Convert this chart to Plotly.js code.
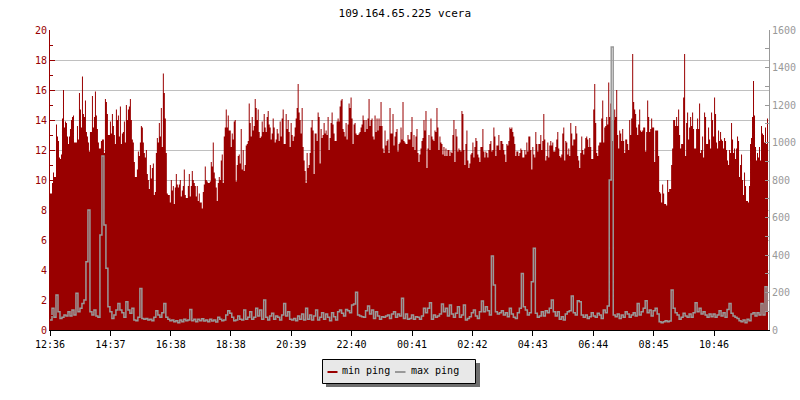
<!DOCTYPE html>
<html>
<head>
<meta charset="utf-8">
<script src="https://cdn.plot.ly/plotly-3.0.1.min.js"></script>
<style>
  html, body { margin: 0; padding: 0; background: #ffffff; }
  #chart { width: 800px; height: 400px; }
</style>
</head>
<body>
<div id="chart"></div>
<script>
// ---- data ----
const chartTitle = '109.164.65.225 vcera';
const startTime = '12:36';          // first sample
const minStepMinutes = 2;           // sampling of min ping
const maxStepMinutes = 4;           // sampling of max ping (as read)
const tickLabels = ['12:36','14:37','16:38','18:38','20:39','22:40','00:41','02:42','04:43','06:44','08:45','10:46'];
const seriesNames = ['min ping', 'max ping'];

// min ping (left axis, ms)
const minPing = [
9.1,9.1,9.8,10.5,10.2,10.2,13.7,12.9,12.6,11.5,
11.4,11.7,14.1,16.0,13.5,13.9,13.8,12.9,12.4,12.9,
13.4,14.0,14.2,14.3,12.5,12.5,12.5,13.6,12.7,15.8,
14.7,13.5,16.9,14.4,14.2,15.3,13.2,12.9,12.5,11.9,
13.2,13.2,15.6,13.5,14.2,15.9,14.3,13.4,12.5,12.1,
12.1,12.6,12.7,12.7,11.8,15.4,15.2,14.4,13.0,13.0,
13.9,13.1,14.4,13.6,13.0,12.4,14.7,14.0,14.3,12.9,
14.9,12.4,13.1,13.2,13.9,12.5,15.0,14.0,14.7,14.9,
15.4,14.0,12.7,12.5,11.2,10.2,10.2,10.7,11.9,11.6,
12.5,13.6,13.5,12.5,11.8,11.5,12.0,10.4,10.0,9.4,
11.0,10.1,10.8,11.1,9.0,9.2,11.8,12.8,12.5,13.8,
12.9,14.8,12.2,17.1,15.8,14.1,11.8,9.1,9.0,9.0,
8.5,10.0,9.3,9.6,8.4,9.5,10.4,9.7,9.5,9.7,
10.0,8.9,9.3,9.6,10.7,9.0,8.8,8.8,9.6,10.4,
8.9,9.6,10.6,10.0,9.8,9.6,8.9,9.6,8.6,9.1,
8.5,8.5,8.1,9.2,9.7,10.9,10.0,9.9,9.8,9.8,
9.9,11.2,10.9,12.5,10.5,10.1,9.5,8.6,9.8,10.2,
10.0,11.3,11.7,9.8,12.9,13.5,14.7,13.5,14.3,13.3,
13.3,12.2,13.1,12.7,13.9,14.0,9.9,11.0,11.6,11.7,
11.1,13.4,10.7,12.0,10.6,11.0,12.3,12.4,12.6,15.1,
13.8,12.9,14.2,13.3,13.6,15.4,14.8,14.0,14.7,13.2,
12.8,12.9,13.9,13.2,14.4,13.5,13.2,14.2,14.6,13.7,
13.5,12.7,13.1,14.1,13.5,12.5,12.7,13.4,13.1,12.6,
13.9,12.9,14.1,14.7,12.4,12.4,14.4,13.4,14.0,13.2,
12.2,13.8,13.0,12.6,12.9,13.5,14.1,14.8,16.4,14.5,
14.0,13.1,14.8,12.2,11.3,10.6,9.8,11.8,10.8,11.0,
11.8,13.5,14.0,13.3,10.4,13.1,13.1,12.6,14.5,14.2,
11.1,13.4,12.8,13.0,13.8,13.1,13.3,13.0,14.2,12.0,
12.8,13.8,14.5,13.7,13.1,12.6,12.6,13.9,14.1,13.9,
14.9,15.3,15.4,13.4,13.2,12.9,13.8,12.7,13.7,15.1,
14.8,15.5,14.1,12.4,13.7,13.8,13.1,13.0,13.0,13.1,
13.2,13.5,13.7,14.3,14.0,13.2,14.0,13.4,14.1,15.4,
13.6,14.0,14.1,12.9,12.7,14.3,13.2,14.1,13.3,14.1,
13.6,15.2,13.6,12.1,11.8,13.3,12.3,12.6,12.7,11.8,
14.8,13.1,13.1,14.4,12.3,12.9,13.2,13.4,11.9,12.4,
12.5,13.5,12.7,15.2,12.6,12.5,12.4,12.4,13.0,12.7,
12.7,13.2,14.2,12.2,13.0,12.0,12.9,13.4,11.8,11.2,
11.7,12.1,12.6,12.8,14.0,13.3,14.6,10.8,12.1,13.0,
12.0,14.1,12.9,12.7,12.6,13.3,13.2,14.8,13.5,12.0,
12.9,12.5,12.4,11.7,12.2,11.6,12.1,11.6,12.0,12.0,
11.6,11.9,11.8,13.0,14.0,11.2,13.4,12.9,11.9,12.1,
12.0,11.9,14.6,14.4,12.0,11.0,12.4,13.3,11.3,10.8,
11.1,11.7,11.8,12.5,11.5,12.2,12.8,12.6,11.7,11.5,
11.2,12.2,12.2,13.4,11.9,11.5,11.9,11.8,11.5,12.0,
12.4,12.6,11.9,12.0,13.5,12.9,11.6,12.3,12.3,13.0,
12.0,12.6,12.6,12.4,12.0,11.7,11.2,12.4,12.3,12.6,
13.5,13.4,13.5,13.2,12.9,12.4,11.6,11.9,11.9,11.6,
11.8,12.1,12.0,11.5,11.5,12.0,11.7,12.5,11.9,12.9,
12.9,12.0,10.7,12.2,11.7,11.5,13.2,12.4,11.9,12.4,
12.4,13.0,12.0,12.6,14.4,12.7,11.3,11.6,12.5,11.5,
12.3,12.6,12.3,12.5,11.9,11.9,12.2,12.7,13.2,12.1,
11.6,11.5,11.7,13.1,13.5,11.3,12.6,12.5,11.7,12.1,
11.6,13.8,13.1,12.3,12.7,12.7,13.6,13.1,11.6,11.3,
10.8,11.8,12.9,12.0,11.7,12.1,12.8,12.9,12.7,12.2,
12.8,12.2,11.4,11.4,14.7,16.4,13.8,11.8,11.6,12.3,
12.5,12.5,14.1,15.3,12.5,13.5,13.6,14.2,13.7,16.5,
14.2,15.1,14.0,12.6,14.0,14.7,14.2,16.0,13.0,12.1,
13.3,13.1,12.6,13.4,12.6,11.8,12.7,12.7,12.4,12.0,
14.0,13.0,14.1,18.4,15.2,14.7,14.4,13.5,13.0,13.7,
14.7,13.3,13.2,13.3,13.5,13.5,11.9,13.2,15.3,14.2,
13.2,13.4,14.1,13.5,13.5,11.2,13.3,13.3,13.3,11.6,
9.2,9.1,8.5,9.7,9.1,8.4,8.4,8.3,10.0,9.2,
9.4,9.4,11.0,12.1,14.0,14.0,13.6,14.2,13.6,14.7,
13.0,12.1,12.4,12.4,15.5,18.4,11.6,13.8,14.5,12.7,
13.5,14.2,13.6,14.5,13.4,12.1,12.1,13.4,14.1,13.4,
15.1,11.8,12.0,12.9,11.5,14.5,14.2,12.4,12.4,13.5,
12.7,12.1,14.5,14.0,12.9,15.5,14.4,12.5,12.1,13.3,
12.6,13.2,12.7,12.6,12.1,12.8,12.6,12.0,11.3,11.0,
12.0,11.8,13.8,12.7,11.8,12.1,11.4,12.1,12.9,12.6,
10.2,11.0,11.7,10.0,9.0,10.5,9.6,8.6,8.6,8.5,
9.6,12.4,12.8,14.2,16.6,14.3,12.2,11.3,11.8,11.5,
12.2,11.3,13.6,13.1,13.0,12.5,13.5,12.4,14.1,14.4
];

// max ping (right axis, ms)
const maxPing = [
53,116,68,187,98,62,68,80,75,98,
75,107,80,196,98,116,142,160,364,640,
98,80,107,75,68,507,928,560,330,124,
98,62,80,107,142,107,92,68,151,107,
89,116,53,50,68,222,62,57,62,53,
57,50,68,103,80,68,92,142,68,57,
50,53,44,50,39,53,44,57,50,53,
110,50,57,44,57,50,60,48,53,44,
57,48,53,43,68,57,50,53,80,103,
89,68,50,53,75,57,53,107,57,68,
98,57,68,116,75,107,57,160,68,53,
75,89,57,75,68,53,80,142,75,98,
57,53,62,50,75,57,85,53,116,57,
80,53,75,107,53,68,92,57,85,68,
50,92,71,53,98,107,89,75,110,103,
92,133,139,201,80,75,71,68,103,128,
85,107,62,98,75,57,71,68,75,80,
62,85,98,68,85,75,169,62,85,57,
62,80,57,71,68,57,75,116,92,116,
146,57,80,68,75,85,139,98,116,75,
133,85,68,89,124,68,80,133,53,62,
71,92,107,75,62,98,155,98,124,103,
80,395,240,98,85,92,103,80,92,71,
116,85,68,62,92,116,302,124,107,80,
92,258,436,89,68,75,98,75,103,92,
116,160,98,75,98,57,71,53,85,98,
103,181,92,80,156,151,80,68,80,62,
71,92,75,68,89,80,62,107,92,128,
800,1510,80,71,85,62,80,68,98,85,
68,80,92,75,142,80,98,116,156,92,
107,75,103,116,85,44,39,44,50,44,
48,213,116,92,80,57,68,89,75,68,
85,68,92,146,98,116,85,98,80,68,
85,71,85,68,80,103,75,92,68,110,
142,89,75,68,62,50,44,53,39,57,
50,85,92,75,92,80,142,80,231,98
];

// ---- helpers ----
function toMin(label) {
  const [h, m] = label.split(':').map(Number);
  const [h0, m0] = startTime.split(':').map(Number);
  return ((h * 60 + m) - (h0 * 60 + m0) + 1440) % 1440;
}
const minX = minPing.map((_, i) => i * minStepMinutes);
const maxX = maxPing.map((_, i) => i * maxStepMinutes);
const tickVals = tickLabels.map(toMin);

const RED = '#990000';
const GRAY = '#999999';
const MONO = 'DejaVu Sans Mono, monospace';

const traces = [
  {
    x: minX, y: minPing, type: 'scatter', mode: 'lines', name: seriesNames[0],
    line: {shape: 'hv', width: 0, color: RED},
    fill: 'tozeroy', fillcolor: RED,
    yaxis: 'y', showlegend: false, hoverinfo: 'skip'
  },
  {
    x: maxX, y: maxPing, type: 'scatter', mode: 'lines', name: seriesNames[1],
    line: {shape: 'hv', width: 1.5, color: GRAY},
    yaxis: 'y2', showlegend: false, hoverinfo: 'skip'
  }
];

// legend box geometry (pixels of the 800x400 page), converted to paper coords
const PL = 50, PW = 719, PB = 330, PH = 300;
const px = v => (v - PL) / PW;
const py = v => (PB - v) / PH;

const shapes = [
  // shadow
  {type: 'rect', xref: 'paper', yref: 'paper', x0: px(326), x1: px(480), y0: py(387), y1: py(363),
   fillcolor: '#6e6e6e', line: {width: 0}, layer: 'above'},
  // box
  {type: 'rect', xref: 'paper', yref: 'paper', x0: px(322.5), x1: px(475.5), y0: py(383.5), y1: py(359.5),
   fillcolor: '#e8e8e8', line: {width: 1, color: '#000'}, layer: 'above'},
  // symbols
  {type: 'line', xref: 'paper', yref: 'paper', x0: px(327.5), x1: px(337.5), y0: py(372), y1: py(372),
   line: {width: 2, color: RED}, layer: 'above'},
  {type: 'line', xref: 'paper', yref: 'paper', x0: px(395), x1: px(405.5), y0: py(372), y1: py(372),
   line: {width: 2, color: GRAY}, layer: 'above'}
];
const annotations = [
  {text: seriesNames[0], xref: 'paper', yref: 'paper', x: px(341), y: py(370.5),
   xanchor: 'left', yanchor: 'middle', showarrow: false, borderpad: 0,
   font: {family: MONO, size: 10, color: '#000'}},
  {text: seriesNames[1], xref: 'paper', yref: 'paper', x: px(409.5), y: py(370.5),
   xanchor: 'left', yanchor: 'middle', showarrow: false, borderpad: 0,
   font: {family: MONO, size: 10, color: '#000'}}
];

const layout = {
  width: 800, height: 400,
  margin: {l: 50, r: 31, t: 30, b: 70},
  paper_bgcolor: '#ffffff', plot_bgcolor: '#ffffff',
  font: {family: MONO, size: 10, color: '#000'},
  title: {text: chartTitle, font: {family: MONO, size: 11, color: '#000'},
          x: 0.506, xanchor: 'center', xref: 'container',
          y: 1 - 13 / 400, yanchor: 'middle', yref: 'container'},
  xaxis: {
    range: [0, 1440], tickvals: tickVals, ticktext: tickLabels,
    ticks: 'outside', ticklen: 5, tickcolor: '#000', tickwidth: 1,
    showline: true, linecolor: '#000', linewidth: 1,
    showgrid: false, zeroline: false,
    tickfont: {family: MONO, size: 10, color: '#000'}, fixedrange: true
  },
  yaxis: {
    range: [0, 20], tick0: 0, dtick: 2,
    ticks: 'inside', ticklen: 5, tickcolor: RED, tickwidth: 1,
    showline: true, linecolor: RED, linewidth: 1,
    showgrid: true, gridcolor: '#c0c0c0', gridwidth: 1, zeroline: false,
    minor: {dtick: 1, ticks: 'inside', ticklen: 3, tickcolor: RED, showgrid: false},
    tickfont: {family: MONO, size: 10, color: RED}, fixedrange: true
  },
  yaxis2: {
    overlaying: 'y', side: 'right',
    range: [0, 1600], tick0: 0, dtick: 200,
    ticks: 'inside', ticklen: 4, tickcolor: '#999', tickwidth: 1,
    showline: true, linecolor: '#999', linewidth: 1,
    showgrid: false, zeroline: false,
    minor: {dtick: 100, ticks: 'inside', ticklen: 4, tickcolor: '#999', showgrid: false},
    tickfont: {family: MONO, size: 10, color: '#999'}, fixedrange: true
  },
  shapes: shapes,
  annotations: annotations,
  showlegend: false
};

Plotly.newPlot('chart', traces, layout, {displayModeBar: false, staticPlot: true});
</script>
</body>
</html>
